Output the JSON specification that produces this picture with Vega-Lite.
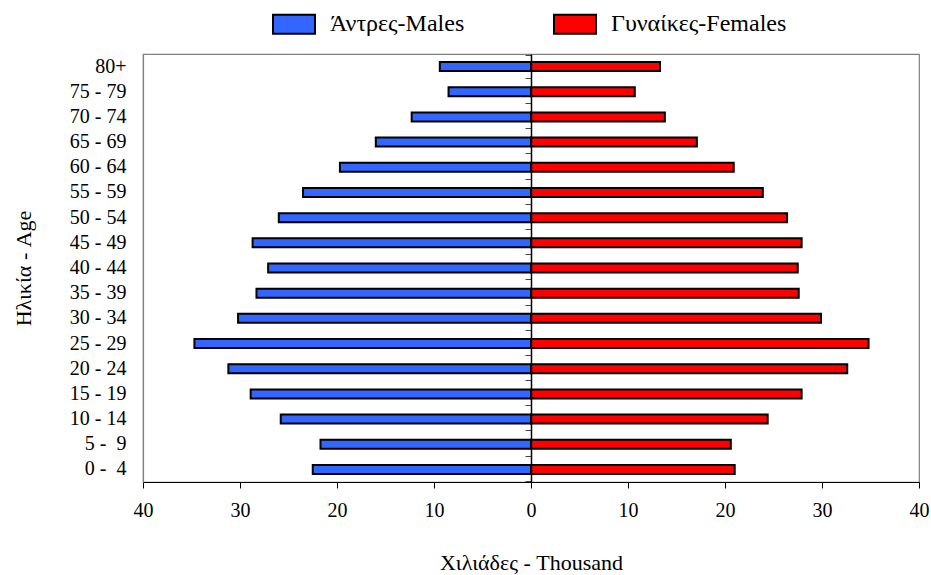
{
  "$schema": "https://vega.github.io/schema/vega-lite/v6.json",
  "autosize": {"type": "none"},
  "padding": {"left": 143, "top": 54, "right": 12, "bottom": 93},
  "width": 776,
  "height": 428,
  "background": "white",
  "config": {
    "font": "Liberation Serif",
    "view": {"stroke": "#808080", "strokeWidth": 1.2},
    "axis": {"labelFont": "Liberation Serif", "titleFont": "Liberation Serif", "labelColor": "#000", "titleColor": "#000", "titleFontWeight": "normal", "grid": false}
  },
  "data": {"values": [
    {"age": "80+", "sex": "Άντρες-Males", "population": -9.4},
    {"age": "75 - 79", "sex": "Άντρες-Males", "population": -8.5},
    {"age": "70 - 74", "sex": "Άντρες-Males", "population": -12.3},
    {"age": "65 - 69", "sex": "Άντρες-Males", "population": -16.0},
    {"age": "60 - 64", "sex": "Άντρες-Males", "population": -19.7},
    {"age": "55 - 59", "sex": "Άντρες-Males", "population": -23.5},
    {"age": "50 - 54", "sex": "Άντρες-Males", "population": -26.0},
    {"age": "45 - 49", "sex": "Άντρες-Males", "population": -28.7},
    {"age": "40 - 44", "sex": "Άντρες-Males", "population": -27.1},
    {"age": "35 - 39", "sex": "Άντρες-Males", "population": -28.3},
    {"age": "30 - 34", "sex": "Άντρες-Males", "population": -30.2},
    {"age": "25 - 29", "sex": "Άντρες-Males", "population": -34.7},
    {"age": "20 - 24", "sex": "Άντρες-Males", "population": -31.2},
    {"age": "15 - 19", "sex": "Άντρες-Males", "population": -28.9},
    {"age": "10 - 14", "sex": "Άντρες-Males", "population": -25.8},
    {"age": "5 - \u00a09", "sex": "Άντρες-Males", "population": -21.7},
    {"age": "0 - \u00a04", "sex": "Άντρες-Males", "population": -22.5},
    {"age": "80+", "sex": "Γυναίκες-Females", "population": 13.3},
    {"age": "75 - 79", "sex": "Γυναίκες-Females", "population": 10.7},
    {"age": "70 - 74", "sex": "Γυναίκες-Females", "population": 13.8},
    {"age": "65 - 69", "sex": "Γυναίκες-Females", "population": 17.1},
    {"age": "60 - 64", "sex": "Γυναίκες-Females", "population": 20.9},
    {"age": "55 - 59", "sex": "Γυναίκες-Females", "population": 23.9},
    {"age": "50 - 54", "sex": "Γυναίκες-Females", "population": 26.4},
    {"age": "45 - 49", "sex": "Γυναίκες-Females", "population": 27.9},
    {"age": "40 - 44", "sex": "Γυναίκες-Females", "population": 27.5},
    {"age": "35 - 39", "sex": "Γυναίκες-Females", "population": 27.6},
    {"age": "30 - 34", "sex": "Γυναίκες-Females", "population": 29.9},
    {"age": "25 - 29", "sex": "Γυναίκες-Females", "population": 34.8},
    {"age": "20 - 24", "sex": "Γυναίκες-Females", "population": 32.6},
    {"age": "15 - 19", "sex": "Γυναίκες-Females", "population": 27.9},
    {"age": "10 - 14", "sex": "Γυναίκες-Females", "population": 24.4},
    {"age": "5 - \u00a09", "sex": "Γυναίκες-Females", "population": 20.6},
    {"age": "0 - \u00a04", "sex": "Γυναίκες-Females", "population": 21.0}
  ]},
  "layer": [
    {
      "mark": {"type": "bar", "size": 9, "stroke": "#000", "strokeWidth": 2},
      "encoding": {
        "y": {"field": "age", "type": "nominal", "sort": null,
          "axis": {"orient": "left", "title": "Ηλικία - Age", "titleFontSize": 22, "titlePadding": 34, "labelFontSize": 20, "tickSize": 0, "labelPadding": 17, "domainColor": "#808080", "domainWidth": 1.2}},
        "x": {"field": "population", "type": "quantitative",
          "scale": {"domain": [-40, 40], "nice": false},
          "axis": {"values": [-40, -30, -20, -10, 0, 10, 20, 30, 40], "labelExpr": "abs(datum.value)", "title": "Χιλιάδες - Thousand", "titleFontSize": 22, "titlePadding": 32, "labelFontSize": 20, "labelPadding": 12, "tickSize": 6, "tickColor": "#000", "domainColor": "#000", "domainWidth": 1.2, "labelFlush": false}},
        "color": {"field": "sex", "type": "nominal",
          "scale": {"domain": ["Άντρες-Males", "Γυναίκες-Females"], "range": ["#3366ff", "#ff0000"]},
          "legend": {"title": null, "orient": "none", "legendX": 129, "legendY": -52, "direction": "horizontal", "symbolType": "M-1,-0.45H1V0.45H-1Z", "symbolSize": 1764, "symbolStrokeColor": "#000", "symbolStrokeWidth": 2, "symbolOpacity": 1, "labelFont": "Liberation Serif", "labelFontSize": 24, "labelColor": "#000", "labelOffset": 14, "columnPadding": 85, "labelLimit": 300}}
      }
    },
    {
      "mark": {"type": "point", "opacity": 0},
      "encoding": {
        "y": {"field": "age", "type": "nominal", "sort": null,
          "axis": {"orient": "left", "offset": -388, "title": null, "labels": false, "tickBand": "extent", "tickSize": 6, "tickColor": "#444", "domainColor": "#000", "domainWidth": 1.5, "zindex": 1}},
        "x": {"field": "population", "type": "quantitative"}
      }
    }
  ],
  "resolve": {"axis": {"y": "independent"}}
}
